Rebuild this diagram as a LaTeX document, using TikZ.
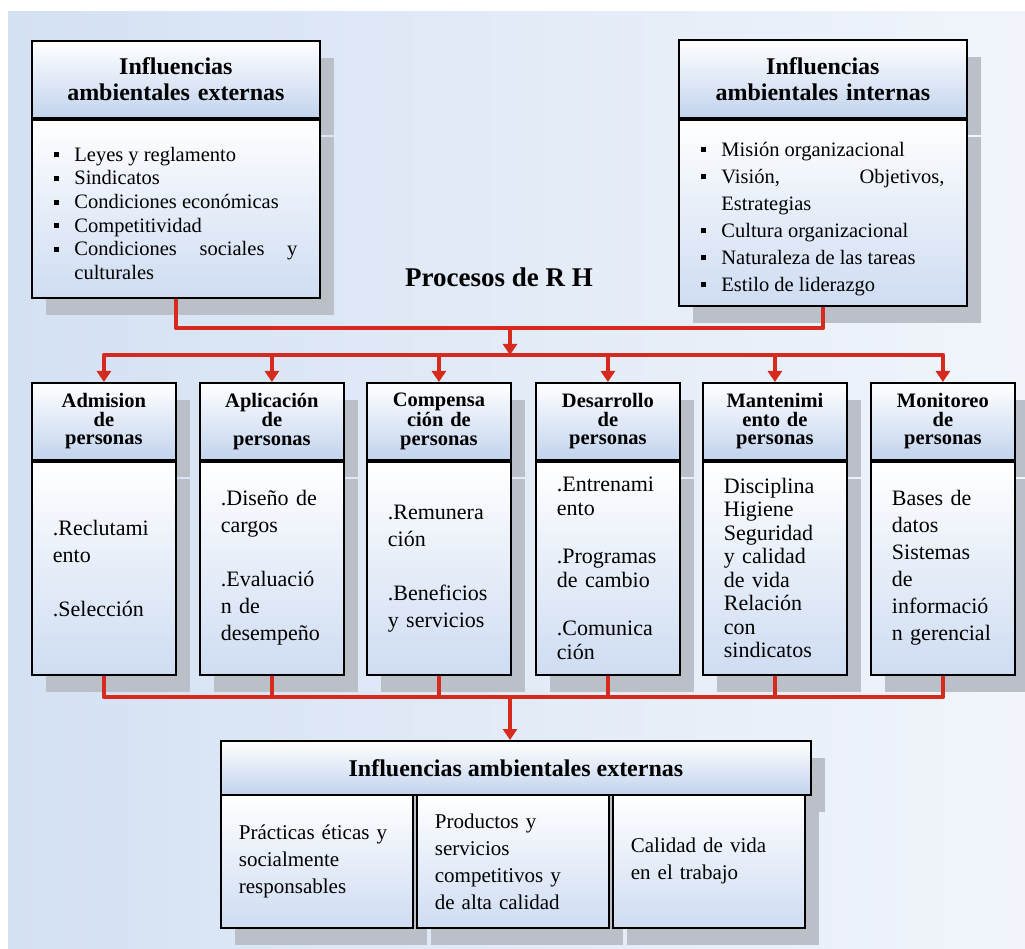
\documentclass[tikz,border=0pt]{standalone}
\usepackage{fontspec}
\setmainfont{Liberation Serif}
\usepackage{xcolor}
\usetikzlibrary{arrows.meta, positioning, shadows}

\definecolor{rhred}{RGB}{214,42,30}
\definecolor{headblue}{RGB}{194,211,238}
\definecolor{bodyblue}{RGB}{206,220,242}
\definecolor{bgleft}{RGB}{212,225,243}
\definecolor{bgright}{RGB}{241,245,251}
\definecolor{shadowgray}{RGB}{186,191,200}

\newcommand{\rhbullet}[1]{\par\noindent\hangindent=20pt\hangafter=1\makebox[20pt][l]{\raisebox{4pt}{\rule{5pt}{5pt}}}#1\par}

\begin{document}
\begin{tikzpicture}[x=1pt, y=-1pt,
    box/.style={draw=black, line width=1.8pt, inner sep=0pt,
        drop shadow={shadow xshift=14pt, shadow yshift=-17pt, fill=shadowgray, opacity=1}},
    head/.style={box, top color=white, bottom color=headblue, align=center},
    body/.style={box, top color=white, bottom color=bodyblue},
    bighead/.style={head, minimum width=288pt, minimum height=77pt, text width=280pt, font=\bfseries\fontsize{24}{26}\selectfont},
    bigbody/.style={body, text width=243pt, inner xsep=22.5pt, align=justify, font=\fontsize{20.5}{23.6}\selectfont},
    colhead/.style={head, minimum width=144pt, minimum height=77pt, text width=136pt, font=\bfseries\fontsize{20.5}{18.5}\selectfont},
    colbody/.style={body, text width=102pt, inner xsep=21pt, minimum height=213pt, align=left, font=\fontsize{22}{27}\selectfont},
    reshead/.style={head, minimum width=590pt, minimum height=54pt, font=\bfseries\fontsize{24}{26}\selectfont},
    rescell/.style={body, text width=156pt, inner xsep=18pt, minimum height=133pt, align=left, font=\fontsize{21}{27}\selectfont},
    rhline/.style={draw=rhred, line width=4.5pt, line join=round},
    rharrow/.style={rhline, -{Triangle[width=14pt,length=11pt]}}
]
\useasboundingbox (0,0) rectangle (1025,949);
\fill[left color=bgleft, right color=bgright] (8,12) rectangle (1025,949);

% influencias de entrada
\node[bighead, anchor=north west] (exth) at (31,40) {Influencias\\ambientales externas};
\node[bigbody, minimum height=178pt, below=0pt of exth] (extb) {%
    \rhbullet{Leyes y reglamento}%
    \rhbullet{Sindicatos}%
    \rhbullet{Condiciones económicas}%
    \rhbullet{Competitividad}%
    \rhbullet{Condiciones sociales y\linebreak culturales}};

\node[bighead, minimum height=78pt, anchor=north west] (inth) at (678,39) {Influencias\\ambientales internas};
\node[bigbody, minimum height=186pt, font=\fontsize{20.5}{27}\selectfont, below=0pt of inth] (intb) {%
    \rhbullet{Misión organizacional}%
    \rhbullet{Visión, Objetivos,\linebreak Estrategias}%
    \rhbullet{Cultura organizacional}%
    \rhbullet{Naturaleza de las tareas}%
    \rhbullet{Estilo de liderazgo}};

\node[font=\bfseries\fontsize{27}{30}\selectfont, anchor=base] (proc) at (499,287) {Procesos de R H};

% procesos
\node[colhead, anchor=north west] (admh) at (31,382) {Admision\\de\\personas};
\node[colbody, below=0pt of admh] (admb) {.Reclutami\\ento\\[27pt].Selección\\[10pt]};

\node[colhead, anchor=north west] (aplh) at (199,382) {Aplicación\\de\\personas};
\node[colbody, below=0pt of aplh] (aplb) {.Diseño de\\cargos\\[27pt].Evaluació\\n de\\desempeño};

\node[colhead, anchor=north west] (comh) at (366,382) {Compensa\\ción de\\personas};
\node[colbody, below=0pt of comh] (comb) {.Remunera\\ción\\[27pt].Beneficios\\y servicios\\[10pt]};

\node[colhead, anchor=north west] (desh) at (535,382) {Desarrollo\\de\\personas};
\node[colbody, font=\fontsize{22}{23.5}\selectfont, below=0pt of desh] (desb) {.Entrenami\\ento\\[25pt].Programas\\de cambio\\[25pt].Comunica\\ción};

\node[colhead, anchor=north west] (manh) at (702,382) {Mantenimi\\ento de\\personas};
\node[colbody, font=\fontsize{22}{23.5}\selectfont, below=0pt of manh] (manb) {Disciplina\\Higiene\\Seguridad\\y calidad\\de vida\\Relación\\con\\sindicatos};

\node[colhead, anchor=north west] (monh) at (870,382) {Monitoreo\\de\\personas};
\node[colbody, below=0pt of monh] (monb) {Bases de\\datos\\Sistemas\\de\\informació\\n gerencial};

% resultados
\node[reshead, anchor=north west] (resh) at (220,740) {Influencias ambientales externas};
\node[rescell, anchor=north west] (res1) at (220,794) {Prácticas éticas y\\socialmente\\responsables\\[14pt]};
\node[rescell, anchor=north west] (res2) at (416,794) {Productos y\\servicios\\competitivos y\\de alta calidad};
\node[rescell, anchor=north west] (res3) at (612,794) {Calidad de vida\\en el trabajo};

\coordinate (jtop) at (510,328);
\coordinate (jmid) at (510,355);
\coordinate (jbot) at (510,697);

\draw[rhline] (extb.south) |- (jtop);
\draw[rhline] (intb.south) |- (jtop);
\draw[rharrow] (jtop) -- (jmid);

\draw[rharrow] (jmid) -| (admh.north);
\draw[rharrow] (jmid) -| (aplh.north);
\draw[rharrow] (jmid) -| (comh.north);
\draw[rharrow] (jmid) -| (desh.north);
\draw[rharrow] (jmid) -| (manh.north);
\draw[rharrow] (jmid) -| (monh.north);

\draw[rhline] (admb.south) |- (jbot);
\draw[rhline] (aplb.south) |- (jbot);
\draw[rhline] (comb.south) |- (jbot);
\draw[rhline] (desb.south) |- (jbot);
\draw[rhline] (manb.south) |- (jbot);
\draw[rhline] (monb.south) |- (jbot);
\draw[rharrow] (jbot) -- (jbot |- resh.north);
\end{tikzpicture}
\end{document}
